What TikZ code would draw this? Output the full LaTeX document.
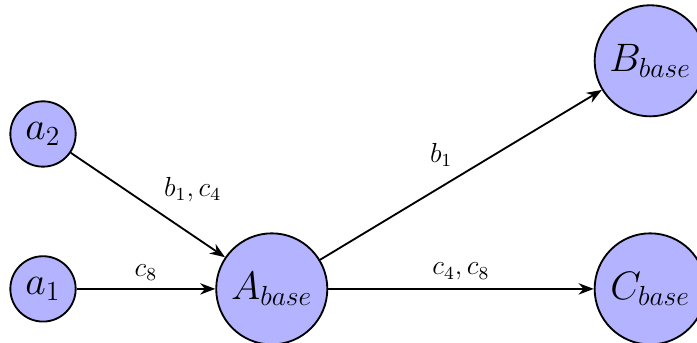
\documentclass[tikz,border=0pt]{standalone}
\usepackage{xcolor}
\usepackage{amsmath}
\usepackage{tikz}
\usetikzlibrary{arrows.meta, positioning}
\definecolor{mydark}{RGB}{0,0,0}
\definecolor{myfill}{RGB}{179,179,255}
\tikzset{
  small/.style={circle, draw=mydark, fill=myfill, minimum size=1cm,
    inner sep=0pt, font=\LARGE, line width=0.8pt},
  big/.style={circle, draw=mydark, fill=myfill, minimum size=1.7cm,
    inner sep=0pt, font=\LARGE, line width=0.8pt},
  arrow/.style={-Stealth, thick, color=mydark},
  lbl/.style={font=\large}
}

\begin{document}
\begin{tikzpicture}
  \useasboundingbox (-0.658, -0.826) rectangle (10.006, 4.42);

  % Nodes
  \node[small] (a1) at (0, 0) {$a_1$};
  \node[small] (a2) at (0, 2.37) {$a_2$};
  \node[big] (abase) at (3.5, 0) {$A_{base}$};
  \node[big] (bbase) at (9.29, 3.49) {$B_{base}$};
  \node[big] (cbase) at (9.29, 0) {$C_{base}$};

  % Connections
  \draw[arrow] (a2) -- node[lbl, pos=0.55, above right] {$b_1, c_4$} (abase);
  \draw[arrow] (a1) -- node[lbl, midway, above] {$c_8$} (abase);
  \draw[arrow] (abase) -- node[lbl, midway, above left] {$b_1$} (bbase);
  \draw[arrow] (abase) -- node[lbl, midway, above] {$c_4, c_8$} (cbase);
\end{tikzpicture}
\end{document}
